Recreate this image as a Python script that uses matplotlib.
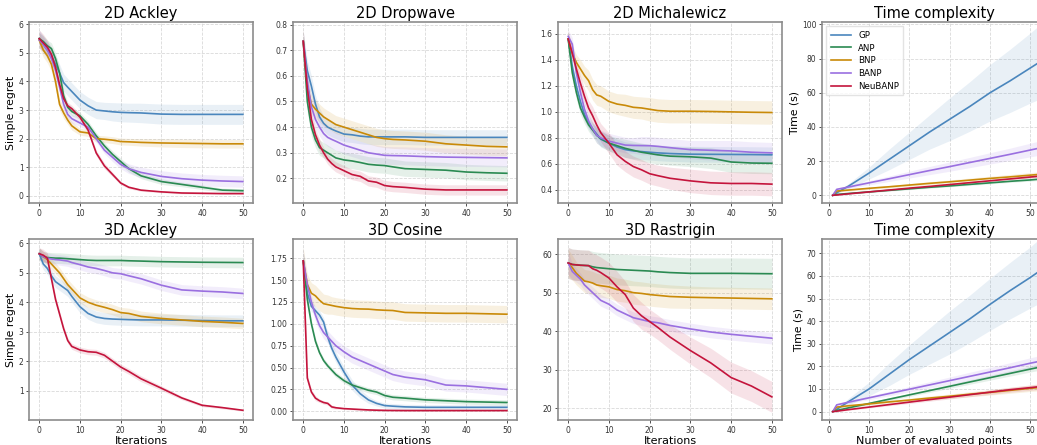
import numpy as np
import matplotlib
matplotlib.use('Agg')
import matplotlib.pyplot as plt

METHODS = ['GP', 'ANP', 'BNP', 'BANP', 'NeuBANP']
COLORS = {'GP': '#4a86bd', 'ANP': '#2a8a52', 'BNP': '#c98a08',
          'BANP': '#9a6fe0', 'NeuBANP': '#c4143c'}

ITERS = [0, 1, 2, 3, 4, 5, 6, 7, 8, 10, 12, 14, 16, 18, 20, 22, 25, 30, 35, 40, 45, 50]

# ---- 2D Ackley
ackley2_mean = {
    'GP': [5.5, 5.3, 5.1, 4.9, 4.6, 4.3, 3.96, 3.8, 3.65, 3.35, 3.15, 3.0, 2.97, 2.94, 2.92, 2.91, 2.9, 2.86, 2.85, 2.85, 2.85, 2.85],
    'ANP': [5.5, 5.4, 5.25, 5.15, 4.8, 4.3, 3.5, 3.1, 2.95, 2.8, 2.5, 2.1, 1.75, 1.45, 1.2, 0.95, 0.7, 0.5, 0.4, 0.3, 0.2, 0.18],
    'BNP': [5.45, 5.1, 4.9, 4.6, 4.0, 3.2, 2.9, 2.65, 2.45, 2.24, 2.2, 2.0, 1.98, 1.95, 1.9, 1.89, 1.87, 1.85, 1.84, 1.83, 1.82, 1.82],
    'BANP': [5.45, 5.3, 5.1, 4.8, 4.4, 3.8, 3.2, 2.85, 2.7, 2.55, 2.4, 2.0, 1.6, 1.35, 1.1, 0.95, 0.82, 0.68, 0.6, 0.55, 0.52, 0.5],
    'NeuBANP': [5.5, 5.35, 5.2, 4.95, 4.5, 3.9, 3.4, 3.15, 3.05, 2.75, 2.3, 1.5, 1.05, 0.75, 0.45, 0.3, 0.2, 0.14, 0.1, 0.09, 0.08, 0.08],
}
ackley2_std = {
    'GP': [0.3, 0.3, 0.3, 0.3, 0.3, 0.3, 0.3, 0.3, 0.3, 0.3, 0.3, 0.3, 0.3, 0.32, 0.33, 0.33, 0.34, 0.35, 0.35, 0.35, 0.35, 0.35],
    'ANP': [0.2, 0.2, 0.2, 0.2, 0.2, 0.2, 0.2, 0.15, 0.15, 0.12, 0.12, 0.12, 0.12, 0.12, 0.12, 0.12, 0.1, 0.1, 0.08, 0.08, 0.07, 0.07],
    'BNP': [0.25, 0.25, 0.25, 0.25, 0.25, 0.2, 0.2, 0.15, 0.15, 0.12, 0.12, 0.12, 0.12, 0.12, 0.12, 0.12, 0.13, 0.14, 0.15, 0.15, 0.15, 0.15],
    'BANP': [0.3, 0.25, 0.25, 0.2, 0.2, 0.2, 0.2, 0.15, 0.15, 0.12, 0.12, 0.12, 0.12, 0.15, 0.15, 0.17, 0.18, 0.2, 0.2, 0.2, 0.2, 0.2],
    'NeuBANP': [0.3, 0.3, 0.25, 0.2, 0.2, 0.15, 0.15, 0.12, 0.12, 0.1, 0.1, 0.1, 0.1, 0.08, 0.06, 0.05, 0.04, 0.03, 0.03, 0.03, 0.03, 0.03],
}

# ---- 2D Dropwave
dropwave_mean = {
    'GP': [0.735, 0.62, 0.56, 0.49, 0.44, 0.415, 0.40, 0.392, 0.385, 0.373, 0.37, 0.365, 0.362, 0.362, 0.362, 0.362, 0.362, 0.36, 0.36, 0.36, 0.36, 0.36],
    'ANP': [0.735, 0.5, 0.40, 0.35, 0.32, 0.31, 0.30, 0.29, 0.28, 0.272, 0.268, 0.262, 0.255, 0.252, 0.25, 0.245, 0.238, 0.235, 0.232, 0.225, 0.222, 0.22],
    'BNP': [0.735, 0.56, 0.49, 0.47, 0.455, 0.44, 0.43, 0.42, 0.41, 0.40, 0.39, 0.38, 0.37, 0.36, 0.355, 0.352, 0.35, 0.345, 0.335, 0.33, 0.325, 0.323],
    'BANP': [0.735, 0.58, 0.48, 0.43, 0.40, 0.375, 0.36, 0.352, 0.345, 0.33, 0.32, 0.31, 0.30, 0.295, 0.29, 0.289, 0.288, 0.285, 0.283, 0.282, 0.281, 0.28],
    'NeuBANP': [0.735, 0.55, 0.43, 0.37, 0.33, 0.30, 0.275, 0.258, 0.245, 0.23, 0.215, 0.208, 0.19, 0.185, 0.172, 0.168, 0.165, 0.158, 0.155, 0.155, 0.155, 0.155],
}
dropwave_std = {
    'GP': [0.04, 0.04, 0.04, 0.035, 0.035, 0.03, 0.03, 0.03, 0.03, 0.03, 0.03, 0.03, 0.03, 0.03, 0.03, 0.03, 0.03, 0.03, 0.03, 0.03, 0.03, 0.03],
    'ANP': [0.04, 0.04, 0.035, 0.03, 0.03, 0.03, 0.03, 0.03, 0.03, 0.03, 0.03, 0.03, 0.03, 0.03, 0.03, 0.03, 0.03, 0.03, 0.03, 0.03, 0.03, 0.03],
    'BNP': [0.04, 0.04, 0.035, 0.035, 0.035, 0.035, 0.035, 0.035, 0.035, 0.035, 0.035, 0.035, 0.035, 0.035, 0.035, 0.035, 0.035, 0.035, 0.035, 0.035, 0.035, 0.035],
    'BANP': [0.04, 0.04, 0.035, 0.035, 0.035, 0.035, 0.035, 0.035, 0.035, 0.035, 0.035, 0.035, 0.035, 0.035, 0.035, 0.035, 0.035, 0.035, 0.035, 0.035, 0.035, 0.035],
    'NeuBANP': [0.045, 0.04, 0.03, 0.025, 0.025, 0.02, 0.02, 0.02, 0.02, 0.02, 0.02, 0.02, 0.02, 0.02, 0.02, 0.02, 0.02, 0.02, 0.02, 0.02, 0.02, 0.02],
}

# ---- 2D Michalewicz
micha_mean = {
    'GP': [1.56, 1.35, 1.2, 1.08, 0.98, 0.92, 0.87, 0.83, 0.79, 0.76, 0.73, 0.71, 0.70, 0.695, 0.69, 0.685, 0.68, 0.675, 0.674, 0.673, 0.672, 0.67],
    'ANP': [1.56, 1.3, 1.15, 1.03, 0.96, 0.90, 0.86, 0.82, 0.795, 0.76, 0.74, 0.72, 0.705, 0.69, 0.68, 0.67, 0.66, 0.655, 0.645, 0.615, 0.607, 0.605],
    'BNP': [1.56, 1.45, 1.38, 1.33, 1.28, 1.24, 1.17, 1.13, 1.12, 1.08, 1.06, 1.05, 1.035, 1.03, 1.02, 1.01, 1.005, 1.005, 1.003, 1.0, 0.997, 0.995],
    'BANP': [1.58, 1.52, 1.3, 1.15, 1.02, 0.93, 0.87, 0.82, 0.80, 0.775, 0.76, 0.745, 0.742, 0.741, 0.74, 0.735, 0.725, 0.71, 0.705, 0.70, 0.69, 0.685],
    'NeuBANP': [1.56, 1.45, 1.33, 1.22, 1.12, 1.03, 0.97, 0.90, 0.84, 0.76, 0.67, 0.62, 0.58, 0.555, 0.525, 0.51, 0.49, 0.47, 0.455, 0.45, 0.45, 0.445],
}
micha_std = {
    'GP': [0.05, 0.05, 0.05, 0.05, 0.05, 0.05, 0.05, 0.05, 0.06, 0.06, 0.06, 0.06, 0.06, 0.06, 0.06, 0.06, 0.06, 0.06, 0.06, 0.06, 0.06, 0.06],
    'ANP': [0.05, 0.05, 0.05, 0.05, 0.05, 0.05, 0.05, 0.06, 0.06, 0.06, 0.06, 0.07, 0.07, 0.07, 0.07, 0.07, 0.07, 0.075, 0.08, 0.08, 0.08, 0.08],
    'BNP': [0.06, 0.06, 0.06, 0.07, 0.07, 0.08, 0.08, 0.08, 0.08, 0.08, 0.08, 0.085, 0.085, 0.085, 0.09, 0.09, 0.09, 0.09, 0.09, 0.09, 0.09, 0.09],
    'BANP': [0.05, 0.05, 0.05, 0.05, 0.05, 0.05, 0.05, 0.06, 0.06, 0.06, 0.06, 0.06, 0.06, 0.07, 0.07, 0.07, 0.07, 0.07, 0.075, 0.08, 0.08, 0.08],
    'NeuBANP': [0.05, 0.05, 0.05, 0.06, 0.06, 0.06, 0.07, 0.07, 0.07, 0.08, 0.08, 0.08, 0.08, 0.08, 0.08, 0.08, 0.085, 0.09, 0.09, 0.09, 0.09, 0.09],
}

# ---- 3D Ackley
ackley3_mean = {
    'GP': [5.65, 5.3, 5.15, 4.9, 4.7, 4.6, 4.5, 4.4, 4.2, 3.85, 3.62, 3.5, 3.45, 3.43, 3.42, 3.41, 3.4, 3.4, 3.39, 3.38, 3.37, 3.37],
    'ANP': [5.65, 5.55, 5.52, 5.51, 5.5, 5.5, 5.49, 5.48, 5.47, 5.45, 5.43, 5.42, 5.42, 5.42, 5.42, 5.41, 5.4, 5.38, 5.37, 5.36, 5.355, 5.35],
    'BNP': [5.65, 5.55, 5.45, 5.3, 5.15, 5.0, 4.8, 4.6, 4.45, 4.15, 4.0, 3.9, 3.83, 3.75, 3.65, 3.62, 3.52, 3.45, 3.4, 3.35, 3.32, 3.28],
    'BANP': [5.65, 5.55, 5.5, 5.47, 5.45, 5.44, 5.42, 5.4, 5.35, 5.28, 5.2, 5.15, 5.08, 5.0, 4.97, 4.9, 4.8, 4.58, 4.42, 4.38, 4.35, 4.3],
    'NeuBANP': [5.65, 5.6, 5.5, 4.8, 4.1, 3.6, 3.1, 2.7, 2.5, 2.38, 2.32, 2.3, 2.2, 2.0, 1.8, 1.65, 1.4, 1.08, 0.75, 0.5, 0.42, 0.33],
}
ackley3_std = {
    'GP': [0.2, 0.2, 0.2, 0.2, 0.2, 0.2, 0.2, 0.2, 0.2, 0.2, 0.2, 0.2, 0.2, 0.2, 0.2, 0.2, 0.2, 0.2, 0.2, 0.2, 0.2, 0.2],
    'ANP': [0.2, 0.18, 0.18, 0.18, 0.18, 0.18, 0.18, 0.18, 0.18, 0.18, 0.18, 0.18, 0.18, 0.18, 0.18, 0.18, 0.18, 0.18, 0.18, 0.18, 0.18, 0.18],
    'BNP': [0.2, 0.18, 0.18, 0.18, 0.18, 0.18, 0.18, 0.18, 0.18, 0.18, 0.18, 0.18, 0.18, 0.18, 0.18, 0.18, 0.18, 0.18, 0.18, 0.18, 0.18, 0.18],
    'BANP': [0.2, 0.18, 0.18, 0.18, 0.18, 0.18, 0.18, 0.18, 0.18, 0.18, 0.18, 0.18, 0.18, 0.18, 0.18, 0.18, 0.18, 0.18, 0.18, 0.18, 0.18, 0.18],
    'NeuBANP': [0.2, 0.2, 0.18, 0.15, 0.12, 0.1, 0.1, 0.1, 0.1, 0.1, 0.1, 0.1, 0.1, 0.1, 0.1, 0.1, 0.1, 0.08, 0.06, 0.05, 0.04, 0.03],
}

# ---- 3D Cosine
cosine_mean = {
    'GP': [1.72, 1.35, 1.2, 1.15, 1.1, 1.02, 0.85, 0.72, 0.62, 0.45, 0.3, 0.2, 0.13, 0.09, 0.065, 0.058, 0.05, 0.045, 0.045, 0.045, 0.045, 0.045],
    'ANP': [1.72, 1.28, 1.0, 0.8, 0.67, 0.58, 0.52, 0.47, 0.42, 0.35, 0.3, 0.27, 0.24, 0.22, 0.18, 0.16, 0.15, 0.13, 0.12, 0.11, 0.105, 0.1],
    'BNP': [1.72, 1.45, 1.35, 1.32, 1.27, 1.23, 1.22, 1.21, 1.2, 1.185, 1.175, 1.17, 1.168, 1.16, 1.155, 1.152, 1.13, 1.125, 1.12, 1.12, 1.115, 1.11],
    'BANP': [1.72, 1.45, 1.25, 1.1, 0.98, 0.9, 0.85, 0.8, 0.75, 0.68, 0.62, 0.58, 0.54, 0.5, 0.46, 0.42, 0.39, 0.36, 0.3, 0.29, 0.27, 0.25],
    'NeuBANP': [1.72, 0.38, 0.22, 0.15, 0.12, 0.1, 0.09, 0.05, 0.04, 0.03, 0.025, 0.02, 0.015, 0.012, 0.01, 0.009, 0.008, 0.008, 0.008, 0.008, 0.008, 0.008],
}
cosine_std = {
    'GP': [0.12, 0.08, 0.06, 0.05, 0.05, 0.05, 0.06, 0.06, 0.06, 0.06, 0.06, 0.05, 0.04, 0.03, 0.03, 0.03, 0.03, 0.03, 0.03, 0.03, 0.03, 0.03],
    'ANP': [0.12, 0.05, 0.04, 0.04, 0.03, 0.03, 0.03, 0.03, 0.03, 0.03, 0.03, 0.03, 0.03, 0.03, 0.03, 0.03, 0.03, 0.03, 0.03, 0.03, 0.03, 0.03],
    'BNP': [0.15, 0.12, 0.12, 0.12, 0.12, 0.11, 0.11, 0.1, 0.1, 0.1, 0.1, 0.1, 0.1, 0.1, 0.1, 0.1, 0.1, 0.1, 0.1, 0.1, 0.1, 0.1],
    'BANP': [0.12, 0.07, 0.07, 0.07, 0.07, 0.07, 0.07, 0.07, 0.07, 0.07, 0.07, 0.07, 0.07, 0.07, 0.07, 0.07, 0.07, 0.07, 0.07, 0.07, 0.07, 0.07],
    'NeuBANP': [0.15, 0.04, 0.03, 0.03, 0.02, 0.02, 0.02, 0.02, 0.015, 0.01, 0.01, 0.01, 0.01, 0.01, 0.01, 0.01, 0.01, 0.01, 0.01, 0.01, 0.01, 0.01],
}

# ---- 3D Rastrigin (no GP run)
rastrigin_mean = {
    'ANP': [57.7, 57.3, 57.2, 57.1, 57.05, 57.0, 56.7, 56.5, 56.4, 56.2, 56.0, 55.9, 55.8, 55.7, 55.6, 55.4, 55.2, 55.0, 55.0, 55.0, 54.95, 54.9],
    'BNP': [57.7, 56.5, 55.0, 54.0, 53.0, 52.8, 52.5, 52.0, 51.8, 51.5, 50.8, 50.5, 50.0, 49.8, 49.5, 49.3, 49.0, 48.8, 48.7, 48.6, 48.5, 48.4],
    'BANP': [57.7, 55.5, 54.5, 53.5, 52.0, 51.0, 50.0, 49.0, 48.0, 47.0, 45.5, 44.5, 43.5, 43.0, 42.5, 42.2, 41.5, 40.6, 39.8, 39.2, 38.7, 38.2],
    'NeuBANP': [57.7, 57.3, 57.2, 57.1, 57.05, 57.0, 56.2, 55.8, 55.2, 53.8, 51.5, 49.5, 46.0, 44.0, 42.5, 41.0, 38.5, 35.0, 31.8, 28.0, 25.8, 23.0],
}
rastrigin_std = {
    'ANP': [4.0, 4.0, 4.0, 4.0, 4.0, 4.0, 4.0, 4.0, 4.0, 4.0, 4.0, 4.0, 4.0, 4.0, 4.0, 4.0, 4.0, 4.0, 4.0, 4.0, 4.0, 4.0],
    'BNP': [3.5, 3.2, 3.0, 3.0, 3.0, 3.0, 3.0, 3.0, 3.0, 3.0, 3.0, 3.0, 3.0, 3.0, 3.0, 3.0, 3.0, 2.9, 2.8, 2.8, 2.8, 2.8],
    'BANP': [3.0, 2.0, 1.8, 1.6, 1.5, 1.5, 1.5, 1.5, 1.5, 1.5, 1.5, 1.5, 1.5, 1.5, 1.5, 1.5, 1.5, 1.5, 1.5, 1.5, 1.5, 1.5],
    'NeuBANP': [4.0, 4.0, 4.0, 4.0, 4.0, 4.0, 4.0, 4.0, 4.0, 4.0, 4.0, 3.5, 3.5, 3.5, 3.2, 3.2, 3.2, 3.5, 3.8, 4.0, 4.0, 4.0],
}

# ---- time complexity
TIME_POINTS = [1, 2, 5, 10, 15, 20, 25, 30, 35, 40, 45, 50, 53]
time2d_mean = {
    'GP': [0, 1.5, 5.5, 13, 21, 29, 37, 44.5, 52, 60, 67, 74.5, 79],
    'ANP': [0, 0.5, 1.1, 2.0, 2.9, 3.8, 4.7, 5.5, 6.4, 7.3, 8.2, 9.0, 9.6],
    'BNP': [0, 2.5, 3.1, 4.1, 5.0, 6.0, 7.0, 7.9, 8.9, 9.9, 10.8, 11.8, 12.4],
    'BANP': [0, 3.5, 4.9, 7.3, 9.7, 12.1, 14.5, 16.8, 19.2, 21.6, 24, 26.5, 28],
    'NeuBANP': [0, 0.2, 0.9, 2.0, 3.1, 4.2, 5.2, 6.3, 7.4, 8.5, 9.6, 10.7, 11.4],
}
time2d_std = {
    'GP': [0, 0.5, 1.5, 3.5, 6, 8, 10, 12.5, 14.5, 16.5, 18.5, 20.5, 22],
    'ANP': [0, 0.3, 0.3, 0.4, 0.4, 0.5, 0.5, 0.5, 0.6, 0.6, 0.6, 0.7, 0.7],
    'BNP': [0, 0.5, 0.6, 0.7, 0.8, 0.9, 1.0, 1.1, 1.2, 1.3, 1.4, 1.5, 1.6],
    'BANP': [0, 0.5, 0.8, 1.2, 1.6, 2.0, 2.4, 2.7, 3.0, 3.3, 3.6, 4.0, 4.2],
    'NeuBANP': [0, 0.2, 0.3, 0.4, 0.4, 0.5, 0.5, 0.6, 0.6, 0.7, 0.7, 0.8, 0.8],
}
time3d_mean = {
    'GP': [0, 1, 4.5, 10, 16.5, 23, 29, 35, 41, 47.4, 53.5, 59.3, 63],
    'ANP': [0, 0.5, 1.7, 3.6, 5.5, 7.4, 9.3, 11.2, 13.1, 15, 16.9, 18.8, 19.9],
    'BNP': [0, 2, 2.6, 3.4, 4.3, 5.1, 6.0, 6.8, 7.7, 8.5, 9.4, 10.3, 10.8],
    'BANP': [0, 3, 4.2, 6.1, 8, 9.9, 11.8, 13.7, 15.6, 17.5, 19.4, 21.4, 22.5],
    'NeuBANP': [0, 0.2, 0.9, 2, 3.1, 4.2, 5.3, 6.4, 7.5, 8.6, 9.7, 10.6, 11.2],
}
time3d_std = {
    'GP': [0, 0.5, 1.5, 3, 5, 6.5, 8, 9.5, 10.5, 11.5, 12.5, 13.5, 14.5],
    'ANP': [0, 0.3, 0.4, 0.5, 0.6, 0.7, 0.8, 0.9, 1.0, 1.1, 1.2, 1.3, 1.4],
    'BNP': [0, 0.4, 0.5, 0.6, 0.7, 0.8, 0.9, 1.0, 1.1, 1.2, 1.3, 1.4, 1.5],
    'BANP': [0, 0.5, 0.6, 0.8, 1.0, 1.2, 1.4, 1.6, 1.8, 2.0, 2.2, 2.4, 2.5],
    'NeuBANP': [0, 0.2, 0.3, 0.4, 0.5, 0.6, 0.7, 0.8, 0.9, 1.0, 1.1, 1.2, 1.3],
}

panels = [
    # title, x, mean, std, ylim, xlim, yticks
    ('2D Ackley', ITERS, ackley2_mean, ackley2_std, (-0.25, 6.08), (-2.5, 52.5), [0, 1, 2, 3, 4, 5, 6]),
    ('2D Dropwave', ITERS, dropwave_mean, dropwave_std, (0.104, 0.81), (-2.5, 52.5), [0.2, 0.3, 0.4, 0.5, 0.6, 0.7, 0.8]),
    ('2D Michalewicz', ITERS, micha_mean, micha_std, (0.30, 1.69), (-2.5, 52.5), [0.4, 0.6, 0.8, 1.0, 1.2, 1.4, 1.6]),
    ('Time complexity', TIME_POINTS, time2d_mean, time2d_std, (-4.5, 101.4), (-1.65, 53.9), [0, 20, 40, 60, 80, 100]),
    ('3D Ackley', ITERS, ackley3_mean, ackley3_std, (0.0, 6.15), (-2.5, 52.5), [1, 2, 3, 4, 5, 6]),
    ('3D Cosine', ITERS, cosine_mean, cosine_std, (-0.10, 1.97), (-2.5, 52.5), [0.0, 0.25, 0.5, 0.75, 1.0, 1.25, 1.5, 1.75]),
    ('3D Rastrigin', ITERS, rastrigin_mean, rastrigin_std, (17.0, 63.9), (-2.5, 52.5), [20, 30, 40, 50, 60]),
    ('Time complexity', TIME_POINTS, time3d_mean, time3d_std, (-3.7, 76.3), (-1.65, 53.9), [0, 10, 20, 30, 40, 50, 60, 70]),
]

fig = plt.figure(figsize=(10.37, 4.45), dpi=100)
lefts = [0.028, 0.2826, 0.5381, 0.7927]
bottoms = [0.5438, 0.0562]
W, H = 0.216, 0.4067

for i, (title, xs, mean, std, ylim, xlim, yticks) in enumerate(panels):
    row, col = divmod(i, 4)
    ax = fig.add_axes([lefts[col], bottoms[row], W, H])
    ax.grid(True, linestyle='--', color='#d9d9d9', linewidth=0.6)
    ax.set_axisbelow(True)
    for m in METHODS:
        if m not in mean:
            continue
        mu = np.array(mean[m])
        sd = np.array(std[m])
        ax.fill_between(xs, mu - sd, mu + sd, color=COLORS[m], alpha=0.12, linewidth=0)
        ax.plot(xs, mu, color=COLORS[m], linewidth=1.2, label=m)
    ax.set_xlim(*xlim)
    ax.set_ylim(*ylim)
    ax.set_xticks([0, 10, 20, 30, 40, 50])
    ax.set_yticks(yticks)
    if title == '3D Cosine':
        ax.set_yticklabels(['%.2f' % v for v in yticks])
    ax.tick_params(labelsize=5.5, length=2, width=0.6, pad=2, colors='#333333')
    for s in ax.spines.values():
        s.set_color('#8c8c8c')
        s.set_linewidth(1.2)
    ax.set_title(title, fontsize=10.5, pad=3)
    if col == 0:
        ax.set_ylabel('Simple regret', fontsize=7.8, labelpad=2)
    if col == 3:
        ax.set_ylabel('Time (s)', fontsize=7.8, labelpad=2)
    if row == 1:
        ax.set_xlabel('Number of evaluated points' if col == 3 else 'Iterations',
                      fontsize=8, labelpad=1)
    if i == 3:
        ax.legend(loc='upper left', fontsize=6.2, frameon=True, handlelength=2.4,
                  borderpad=0.5, labelspacing=0.45, edgecolor='#dddddd', fancybox=False)

fig.savefig('out.png', dpi=100)
